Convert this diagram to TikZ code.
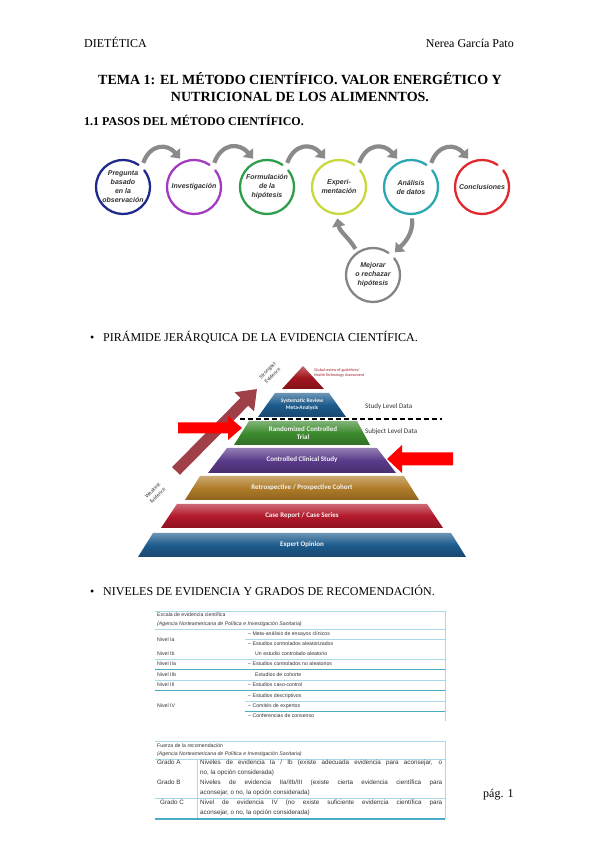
\documentclass[tikz,border=0pt]{standalone}
\usepackage{fontspec}
\setmainfont{Liberation Serif}
\setsansfont{Liberation Sans}
\newfontfamily\calibri{Carlito}
\usepackage{tikz}
\usetikzlibrary{arrows.meta,calc,positioning}
\definecolor{pasoazul}{HTML}{1F2A8C}
\definecolor{pasomorado}{HTML}{A23BC2}
\definecolor{pasoverde}{HTML}{2E9E4A}
\definecolor{pasoamarillo}{HTML}{C9D83A}
\definecolor{pasoturquesa}{HTML}{2BA7B3}
\definecolor{pasorojo}{HTML}{E0282E}
\definecolor{pasogris}{HTML}{858585}
\definecolor{flechagris}{HTML}{8A8A8A}
\definecolor{pirrojo}{HTML}{A3161F}
\definecolor{pirazul}{HTML}{1D5B8C}
\definecolor{pirverde}{HTML}{3D8B2F}
\definecolor{pirmorado}{HTML}{5A3A8A}
\definecolor{pirocre}{HTML}{B07C28}
\definecolor{pircarmin}{HTML}{B2192B}
\definecolor{pirgrana}{HTML}{9F4048}
\definecolor{tablaclaro}{HTML}{A8D8EA}
\definecolor{tablaoscuro}{HTML}{4BACC6}
\definecolor{tablatxt}{HTML}{333333}
\tikzset{
  texto/.style={inner sep=0pt, anchor=base west, font=\fontsize{12}{14}\selectfont},
  paso/.style={circle, minimum size=55pt, inner sep=0pt, outer sep=4pt, align=center,
    font=\sffamily\bfseries\itshape\fontsize{7}{9}\selectfont, text=black!80},
  anillo/.style={line width=2.3pt, line cap=round},
  flechapaso/.style={line width=4.2pt, flechagris, -{Triangle[length=8pt,width=13pt]}},
  capa/.style={top color=#1!65!white, bottom color=#1!80!black, middle color=#1},
  capatxt/.style={inner sep=0pt, align=center, text=white!92!gray,
    font=\calibri\bfseries\fontsize{7}{8.5}\selectfont},
  tabtxt/.style={inner sep=0pt, anchor=base west, text=tablatxt,
    font=\sffamily\fontsize{5.2}{6}\selectfont},
  gradotxt/.style={tabtxt, font=\sffamily\fontsize{6.3}{7}\selectfont},
  tablinea/.style={tablaclaro, line width=0.6pt},
  tablineafuerte/.style={tablaoscuro, line width=0.9pt},
}

\begin{document}
\begin{tikzpicture}[x=1pt, y=1pt]
\useasboundingbox[fill=white] (0,0) rectangle (599,848);

%% Cabecera
\node[texto] (cab) at (84,800) {DIETÉTICA};
\node[texto, anchor=base east] (autora) at (514,800) {Nerea García Pato};
\node[texto, anchor=base, font=\bfseries\fontsize{14}{16}\selectfont] (tit1) at (300,763)
  {TEMA 1: EL MÉTODO CIENTÍFICO. VALOR ENERGÉTICO Y};
\node[texto, anchor=base, font=\bfseries\fontsize{14}{16}\selectfont] (tit2) at (300,746)
  {NUTRICIONAL DE LOS ALIMENNTOS.};
\node[texto, font=\bfseries\fontsize{12}{14}\selectfont] (sec) at (84,722)
  {1.1 PASOS DEL MÉTODO CIENTÍFICO.};

%% Pasos del metodo
\node[paso] (p1) at (123,661) {Pregunta\\basado\\en la\\observación};
\node[paso] (p2) at (194,661) {Investigación};
\node[paso] (p3) at (267,661) {Formulación\\de la\\hipótesis};
\node[paso] (p4) at (339,661) {Experi-\\mentación};
\node[paso] (p5) at (411,661) {Análisis\\de datos};
\node[paso] (p6) at (482,661) {Conclusiones};
\node[paso] (p7) at (373,573) {Mejorar\\o rechazar\\hipótesis};

\draw[anillo, pasoazul] ([shift={(55:27pt)}]p1.center) arc[start angle=55,end angle=398,radius=27pt];
\draw[anillo, pasomorado] ([shift={(55:27pt)}]p2.center) arc[start angle=55,end angle=398,radius=27pt];
\draw[anillo, pasoverde] ([shift={(55:27pt)}]p3.center) arc[start angle=55,end angle=398,radius=27pt];
\draw[anillo, pasoamarillo] ([shift={(55:27pt)}]p4.center) arc[start angle=55,end angle=398,radius=27pt];
\draw[anillo, pasoturquesa] ([shift={(55:27pt)}]p5.center) arc[start angle=55,end angle=398,radius=27pt];
\draw[anillo, pasorojo] ([shift={(55:27pt)}]p6.center) arc[start angle=55,end angle=398,radius=27pt];
\draw[anillo, pasogris] ([shift={(55:27pt)}]p7.center) arc[start angle=55,end angle=398,radius=27pt];

\draw[flechapaso] (p1.50) to[out=70,in=130,looseness=1.4] (p2.116);
\draw[flechapaso] (p2.50) to[out=70,in=130,looseness=1.4] (p3.116);
\draw[flechapaso] (p3.50) to[out=70,in=130,looseness=1.4] (p4.116);
\draw[flechapaso] (p4.50) to[out=70,in=130,looseness=1.4] (p5.116);
\draw[flechapaso] (p5.50) to[out=70,in=130,looseness=1.4] (p6.116);
\draw[flechapaso] (p5.-88) to[out=-85,in=45] (p7.46);
\draw[flechapaso] (p7.124) to[out=120,in=-80] (p4.-93);

%% Piramide
\node[texto] (b1) at (90,506) {\textbullet};
\node[texto] (bt1) at (103,506) {PIRÁMIDE JERÁRQUICA DE LA EVIDENCIA CIENTÍFICA.};

\draw[pirgrana, line width=11pt, -{Triangle[length=18pt,width=26pt]}] (176,377) -- (257,459);
\path[capa=pirrojo] (303,482) -- (324,459) -- (282,459) -- cycle;
\path[capa=pirazul] (275,455) -- (329,455) -- (346,431) -- (258,431) -- cycle;
\path[capa=pirverde] (249,427) -- (357,427) -- (370,403) -- (234,403) -- cycle;
\path[capa=pirmorado] (227,400) -- (377,400) -- (396,375) -- (208,375) -- cycle;
\path[capa=pirocre] (200,372) -- (404,372) -- (419,348) -- (185,348) -- cycle;
\path[capa=pircarmin] (177,344) -- (427,344) -- (443,320) -- (161,320) -- cycle;
\path[capa=pirazul] (153,315) -- (451,315) -- (466,291) -- (138,291) -- cycle;

\node[capatxt, font=\calibri\bfseries\fontsize{5.5}{7}\selectfont] (sr) at (302,443)
  {Systematic Review\\Meta-Analysis};
\node[capatxt] (rct) at (303,415) {Randomized Controlled\\Trial};
\node[capatxt] (ccs) at (302,388) {Controlled Clinical Study};
\node[capatxt] (coh) at (302,360) {Retrospective / Prospective Cohort};
\node[capatxt] (cas) at (302,332) {Case Report / Case Series};
\node[capatxt] (exp) at (302,303) {Expert Opinion};

\draw[line width=1.6pt, dash pattern=on 5pt off 3pt] (240,429) -- (442,429);
\node[capatxt, anchor=west, text=black!80, font=\calibri\fontsize{7}{8}\selectfont] (sld) at (365,441)
  {Study Level Data};
\node[capatxt, anchor=west, text=black!80, font=\calibri\fontsize{7}{8}\selectfont] (subld) at (365,416)
  {Subject Level Data};
\node[capatxt, anchor=north west, align=left, text=pirrojo, font=\calibri\fontsize{4}{5}\selectfont] (glob)
  at (314,479) {Global review of guidelines/\\Health Technology Assessment};
\node[capatxt, rotate=45, text=black!80, font=\calibri\fontsize{5.5}{7}\selectfont] (fuerte)
  at (270,475) {Strongest\\Evidence};
\node[capatxt, rotate=45, text=black!80, font=\calibri\fontsize{5.5}{7}\selectfont] (debil)
  at (155,355) {Weakest\\Evidence};

\fill[red] (178,414.5) -- (228,414.5) -- (228,408) -- (242,420) -- (228,432)
  -- (228,425.5) -- (178,425.5) -- cycle;
\fill[red] (453,382.5) -- (402,382.5) -- (402,375) -- (387,389) -- (402,403)
  -- (402,395.5) -- (453,395.5) -- cycle;

%% Niveles de evidencia
\node[texto] (b2) at (90,252) {\textbullet};
\node[texto] (bt2) at (103,252) {NIVELES DE EVIDENCIA Y GRADOS DE RECOMENDACIÓN.};

\draw[tablinea, line width=0.3pt] (155,237) -- (445,237);
\draw[tablinea] (445,237) -- (445,127);
\node[tabtxt] (esc) at (157,231) {Escala de evidencia científica};
\node[tabtxt, font=\sffamily\itshape\fontsize{5.2}{6}\selectfont] (agn1) at (157,222)
  {(Agencia Norteamericana de Política e Investigación Sanitaria)};
\draw[tablinea] (155,219) -- (445,219);
\node[tabtxt] (r1) at (248,212) {– Meta-análisis de ensayos clínicos};
\draw[tablinea] (245,209) -- (445,209);
\node[tabtxt] (n1a) at (157,206) {Nivel Ia};
\node[tabtxt] (r2) at (248,202) {– Estudios controlados aleatorizados};
\node[tabtxt] (n1b) at (157,192) {Nivel Ib};
\node[tabtxt] (r3) at (255,192) {Un estudio controlado aleatorio};
\draw[tablinea] (155,189) -- (445,189);
\node[tabtxt] (n2a) at (157,182) {Nivel IIa};
\node[tabtxt] (r4) at (248,182) {– Estudios controlados no aleatorios};
\draw[tablineafuerte] (155,179) -- (445,179);
\node[tabtxt] (n2b) at (157,171) {Nivel IIb};
\node[tabtxt] (r5) at (255,171) {Estudios de cohorte};
\draw[tablinea] (155,168) -- (445,168);
\node[tabtxt] (n3) at (157,161) {Nivel III};
\node[tabtxt] (r6) at (248,161) {– Estudios caso-control};
\draw[tablineafuerte] (155,158) -- (445,158);
\node[tabtxt] (r7) at (248,150) {– Estudios descriptivos};
\draw[tablinea] (245,147) -- (445,147);
\node[tabtxt] (n4) at (157,140) {Nivel IV};
\node[tabtxt] (r8) at (248,140) {– Comités de expertos};
\draw[tablineafuerte] (245,137) -- (445,137);
\node[tabtxt] (r9) at (248,130) {– Conferencias de consenso};

%% Grados de recomendacion
\draw[tablinea, line width=0.3pt] (155,107) -- (445,107);
\draw[tablinea] (445,107) -- (445,29);
\node[tabtxt] (fz) at (157,100) {Fuerza de la recomendación};
\node[tabtxt, font=\sffamily\itshape\fontsize{5.2}{6}\selectfont] (agn2) at (157,92)
  {(Agencia Norteamericana de Política e Investigación Sanitaria)};
\draw[tablinea] (155,89) -- (445,89);
\draw[tablinea] (197,89) -- (197,29);
\node[gradotxt] (ga) at (157,83) {Grado A};
\node[gradotxt] (ga1) at (200,83)
  {\makebox[242pt][s]{Niveles de evidencia Ia / Ib (existe adecuada evidencia para aconsejar, o}};
\node[gradotxt] (ga2) at (200,73) {no, la opción considerada)};
\node[gradotxt] (gb) at (157,63) {Grado B};
\node[gradotxt] (gb1) at (200,63)
  {\makebox[242pt][s]{Niveles de evidencia IIa/IIb/III (existe cierta evidencia científica para}};
\node[gradotxt] (gb2) at (200,53) {aconsejar, o no, la opción considerada)};
\draw[tablinea] (155,50) -- (445,50);
\node[gradotxt] (gc) at (160,43) {Grado C};
\node[gradotxt] (gc1) at (200,43)
  {\makebox[242pt][s]{Nivel de evidencia IV (no existe suficiente evidencia científica para}};
\node[gradotxt] (gc2) at (200,33) {aconsejar, o no, la opción considerada)};
\draw[tablineafuerte, line width=1.2pt] (155,29) -- (445,29);

\node[texto] (pag) at (483,50) {pág. 1};

\end{tikzpicture}
\end{document}
